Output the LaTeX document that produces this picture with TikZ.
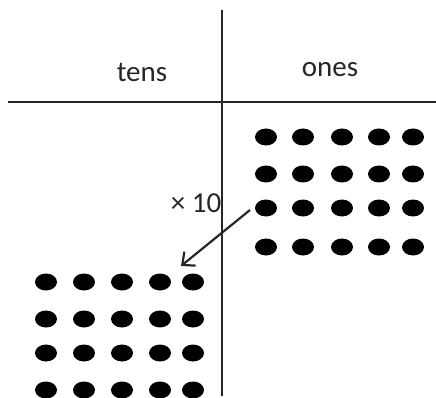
\documentclass[tikz,border=0pt]{standalone}
\usepackage{fontspec}
\setmainfont{Carlito}
\usetikzlibrary{shapes.geometric,arrows.meta}
\begin{document}
\begin{tikzpicture}[x=1pt,y=-1pt,
  dot/.style={ellipse,fill=black,draw=none,minimum width=22pt,minimum height=17pt,inner sep=0pt},
  rule/.style={line width=2.8pt,color=black!85},
  lbl/.style={font=\fontsize{29}{32}\selectfont,text=black!85,inner sep=0pt},
  arr/.style={line width=2.2pt,color=black!85,-{Straight Barb[length=10pt,width=18pt,line width=2.2pt]}}]
\useasboundingbox (0,0) rectangle (436,398);
\coordinate (vtop) at (222,10);
\coordinate (vbot) at (222,396);
\coordinate (hl) at (8,102);
\coordinate (hr) at (436,102);
\draw[rule] (vtop) -- (vbot);
\draw[rule] (hl) -- (hr);
\node[lbl] (tens) at (142,72) {tens};
\node[lbl] (ones) at (330,70) {ones};
\node[lbl] (times) at (196,203) {× 10};
% ones dots
\foreach \x [count=\i] in {266,303,342,379,413}{
  \foreach \y [count=\j] in {137,174,208,247}{
    \node[dot] (o\i\j) at (\x,\y) {};
  }
}
% tens dots
\foreach \x [count=\i] in {46,84,122,160,193}{
  \foreach \y [count=\j] in {282,319,353,390}{
    \node[dot] (t\i\j) at (\x,\y) {};
  }
}
\coordinate (as) at (250,210);
\coordinate (ae) at (181,266);
\draw[arr] (as) -- (ae);
\end{tikzpicture}
\end{document}
